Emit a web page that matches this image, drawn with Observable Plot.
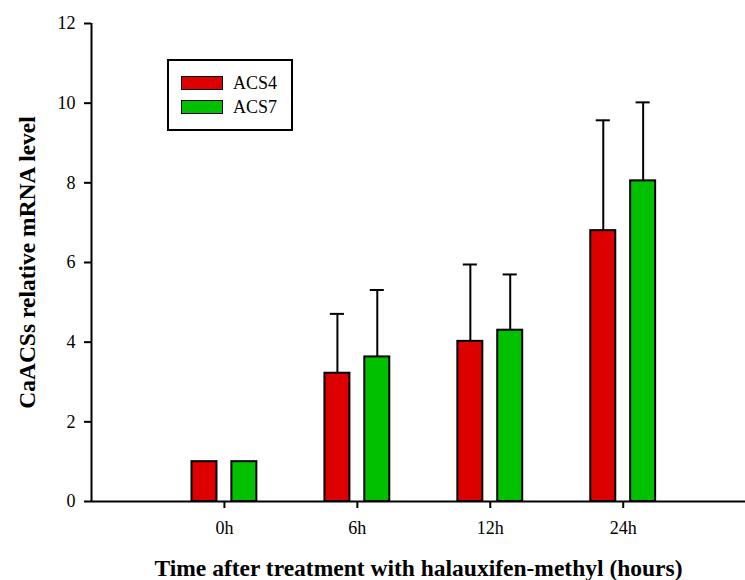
<!DOCTYPE html>
<html>
<head>
<meta charset="utf-8">
<script src="https://cdn.jsdelivr.net/npm/d3@7"></script>
<script src="https://cdn.jsdelivr.net/npm/@observablehq/plot@0.6"></script>
<style>
  body { margin: 0; background: #fff; }
  #chart { position: relative; width: 745px; height: 580px; }
  #chart svg { display: block; }
  g[aria-label="x-axis tick label"] text, g[aria-label="y-axis tick label"] text {
    font-size: 18px !important;
  }
  g[aria-label="x-axis label"] text, g[aria-label="y-axis label"] text {
    font-size: 23.5px !important; font-weight: bold;
  }
  .legend {
    position: absolute; left: 167px; top: 59px; width: 126px; height: 72px;
    box-sizing: border-box; border: 2px solid #000; background: #fff;
    font-family: "Liberation Serif", "Times New Roman", serif; font-size: 18px; color: #000;
  }
  .legend .sw { position: absolute; left: 12px; width: 42px; height: 14px; box-sizing: border-box; border: 1.5px solid #000; }
  .legend .lb { position: absolute; left: 64px; line-height: 18px; white-space: nowrap; }
</style>
</head>
<body>
<div id="chart"></div>
<script>
// ---- data ----
const times = ["0h", "6h", "12h", "24h"];
const series = ["ACS4", "ACS7"];
const acs4 = [1.00, 3.22, 4.02, 6.80];
const acs4Err = [0, 1.49, 1.93, 2.77];
const acs7 = [1.00, 3.63, 4.30, 8.05];
const acs7Err = [0, 1.68, 1.40, 1.97];
const colors = ["#dd0000", "#00c000"];
const yTicks = [0, 2, 4, 6, 8, 10, 12];
const xLabel = "Time after treatment with halauxifen-methyl (hours)";
const yLabel = "CaACSs relative mRNA level";

// ---- table ----
const offset = {ACS4: -0.15, ACS7: 0.15};
const halfBar = 0.094, halfCap = 0.053;
const rows = times.flatMap((t, i) => [
  {time: t, pos: i + 1, series: "ACS4", value: acs4[i], err: acs4Err[i]},
  {time: t, pos: i + 1, series: "ACS7", value: acs7[i], err: acs7Err[i]}
]);
const errRows = rows.filter(d => d.err > 0);
const cx = d => d.pos + offset[d.series];

const plot = Plot.plot({
  width: 745, height: 580,
  marginLeft: 91, marginRight: 0, marginTop: 23, marginBottom: 79,
  style: {fontFamily: '"Liberation Serif", "Times New Roman", serif', fontSize: "18px", color: "#000", background: "transparent"},
  x: {domain: [0, 4.92]},
  y: {domain: [0, 12]},
  color: {domain: series, range: colors},
  marks: [
    Plot.ruleX(errRows, {x: cx, y1: "value", y2: d => d.value + d.err, stroke: "#000", strokeWidth: 2}),
    Plot.ruleY(errRows, {x1: d => cx(d) - halfCap, x2: d => cx(d) + halfCap, y: d => d.value + d.err, stroke: "#000", strokeWidth: 2}),
    Plot.rectY(rows, {x1: d => cx(d) - halfBar, x2: d => cx(d) + halfBar, y1: 0, y2: "value", fill: "series", stroke: "#000", strokeWidth: 2}),
    Plot.axisX({ticks: [1, 2, 3, 4], tickFormat: d => times[d - 1], tickSize: 7, tickPadding: 13, strokeWidth: 2, fontSize: 18,
      label: xLabel, labelArrow: "none", labelAnchor: "center", labelOffset: 74}),
    Plot.axisY({ticks: yTicks, tickSize: 7, tickPadding: 9, strokeWidth: 2, fontSize: 18,
      label: yLabel, labelArrow: "none", labelAnchor: "center", labelOffset: 73}),
    Plot.ruleX([0], {stroke: "#000", strokeWidth: 2}),
    Plot.ruleY([0], {stroke: "#000", strokeWidth: 2})
  ]
});
const chart = document.getElementById("chart");
chart.appendChild(plot);

// ---- legend ----
const legend = document.createElement("div");
legend.className = "legend";
series.forEach((s, i) => {
  const sw = document.createElement("div");
  sw.className = "sw";
  sw.style.top = (15 + i * 24) + "px";
  sw.style.background = colors[i];
  const lb = document.createElement("div");
  lb.className = "lb";
  lb.style.top = (13 + i * 24) + "px";
  lb.textContent = s;
  legend.appendChild(sw);
  legend.appendChild(lb);
});
chart.appendChild(legend);
</script>
</body>
</html>
